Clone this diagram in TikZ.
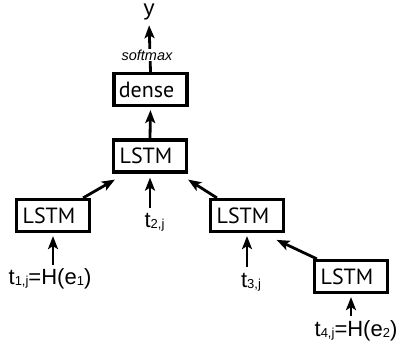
\documentclass[tikz,border=0pt]{standalone}
\usepackage{fontspec}
\setmainfont{Liberation Sans}
\newfontfamily\boxfont{PT Sans}
\usetikzlibrary{arrows.meta}
\newcommand\sbs[1]{\raisebox{-1pt}{\fontsize{13}{13}\selectfont #1}}
\begin{document}
\begin{tikzpicture}[x=1pt,y=1pt,
  lstm/.style={draw, line width=3.2pt, minimum width=73pt, minimum height=32pt, inner sep=0pt,
    font=\boxfont\fontsize{22}{22}\selectfont},
  lab/.style={anchor=base, inner sep=0pt, text height=16pt, font=\fontsize{22}{22}\selectfont},
  arr/.style={line width=2.8pt, -{Stealth[length=13pt,width=10pt,inset=3pt]}},
  vup/.style={arr, shorten <=4pt, shorten >=3pt},
]
\useasboundingbox (0,0) rectangle (398,353);
% boxes
\node[lstm] (dense) at (150.5,263.5) {dense\kern8pt};
\node[lstm] (L0) at (150,197) {LSTM\kern8pt};
\node[lstm] (L1) at (53,137.5) {LSTM\kern8pt};
\node[lstm] (L3) at (247,137.5) {LSTM\kern8pt};
\node[lstm] (L4) at (351,76.5) {LSTM\kern8pt};
% labels
\node[lab] (t1) at (50,68) {t\sbs{1,j}=H(e\sbs{1})};
\node[lab] (t2) at (154.5,125) {t\sbs{2,j}};
\node[lab] (t3) at (251,66) {t\sbs{3,j}};
\node[lab] (t4) at (356,17) {t\sbs{4,j}=H(e\sbs{2})};
\node[anchor=base, inner sep=0pt, font=\fontsize{22}{22}\selectfont] (y) at (149,337) {y};
% arrows
\draw[arr, shorten >=4.5pt] (dense.north) -- (y.south);
\node[fill=white, inner sep=1pt, font=\itshape\fontsize{14.5}{14.5}\selectfont] (sm) at (147,298) {softmax};
\draw[arr, shorten >=3pt] (L0.north) -- (dense.south);
\draw[vup] (t1.north -| L1.south) -- (L1.south);
\draw[vup, shorten >=4pt] (t2.north -| L0.south) -- (L0.south);
\draw[vup] (t3.north -| L3.south) -- (L3.south);
\draw[vup] (t4.north -| L4.south) -- (L4.south);
\draw[arr] ([xshift=-8pt]L1.north east) -- ([xshift=3pt,yshift=-6pt]L0.south west);
\draw[arr] ([xshift=8pt]L3.north west) -- ([yshift=-6pt]L0.south east);
\draw[arr] ([xshift=4pt]L4.north west) -- ([xshift=-8.5pt,yshift=-6.8pt]L3.south east);
\end{tikzpicture}
\end{document}
